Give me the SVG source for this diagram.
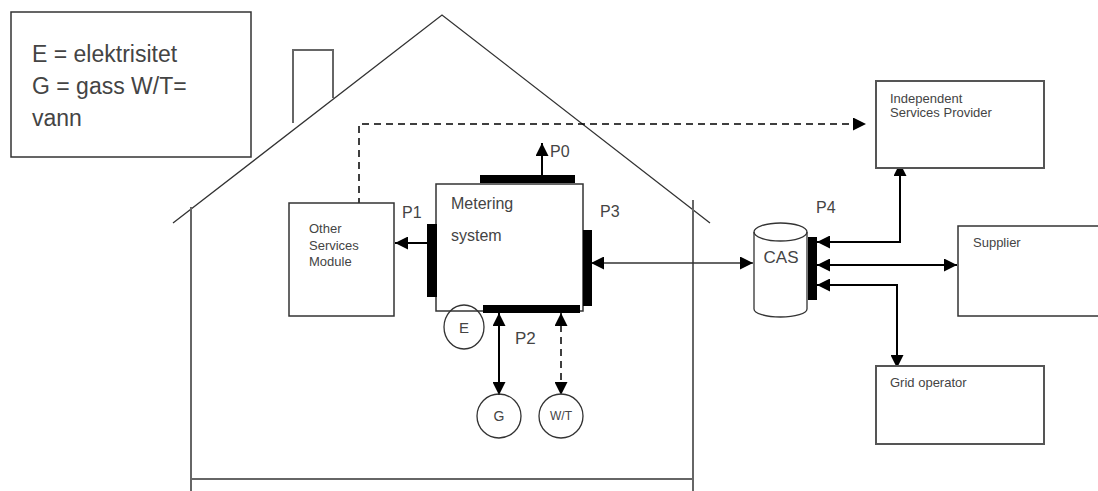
<svg xmlns="http://www.w3.org/2000/svg" width="1098" height="491" viewBox="0 0 1098 491">
<style>
.ln{stroke:#333;stroke-width:1.3;fill:none}
.gl{stroke:#666;stroke-width:2;fill:none}
.bx{stroke:#333;stroke-width:1.5;fill:#fff}
.gbx{stroke:#555;stroke-width:2;fill:#fff}
.bar{fill:#000}
.t{font-family:"Liberation Sans",Arial,sans-serif;fill:#444}
.c{stroke:#000;stroke-width:2;fill:none}
.d{stroke:#000;stroke-width:1.5;fill:none;stroke-dasharray:7,5}
</style>
<defs>
<marker id="ah" viewBox="0 0 10 10" refX="10" refY="5" markerWidth="13" markerHeight="13" markerUnits="userSpaceOnUse" orient="auto-start-reverse"><path d="M0,0 L10,5 L0,10 z" fill="#000"/></marker>
</defs>
<rect width="1098" height="491" fill="#fff"/>
<g id="legend">
<rect x="11" y="12" width="240" height="145" class="bx"/>
<text class="t" x="32" y="62" font-size="23" fill="#333">E = elektrisitet</text>
<text class="t" x="32" y="94" font-size="23" fill="#333">G = gass W/T=</text>
<text class="t" x="32" y="126" font-size="23" fill="#333">vann</text>
</g>
<g id="house">
<polyline points="293,123 293,50 333,50 333,98" class="gl"/>
<polyline points="173,223 442,15 710,223" class="ln"/>
<line x1="191" y1="207" x2="191" y2="491" class="gl"/>
<line x1="693" y1="200" x2="693" y2="491" class="gl"/>
<line x1="190" y1="479" x2="693" y2="479" class="gl" stroke-width="2.5"/>
</g>
<g id="connectors">
<polyline points="359,205 359,124 866,124" class="d" marker-end="url(#ah)"/>
<path d="M353,204 L365,204 L359,213 z" fill="#000"/>
<line x1="542" y1="176" x2="542" y2="143" class="c" marker-end="url(#ah)"/>
<line x1="428" y1="243" x2="395" y2="243" class="c" marker-end="url(#ah)"/>
<line x1="591" y1="263" x2="753" y2="263" class="ln" stroke="#000" marker-start="url(#ah)" marker-end="url(#ah)"/>
<line x1="499" y1="313" x2="499" y2="395" class="c" marker-start="url(#ah)" marker-end="url(#ah)"/>
<line x1="561" y1="313" x2="561" y2="395" class="d" stroke-width="2" stroke-dasharray="5,3" marker-start="url(#ah)" marker-end="url(#ah)"/>
<polyline points="817,242 900,242 900,163" class="c" marker-start="url(#ah)" marker-end="url(#ah)"/>
<line x1="817" y1="265" x2="957" y2="265" class="c" stroke-width="3" marker-start="url(#ah)" marker-end="url(#ah)"/>
<polyline points="817,285 897,285 897,368" class="c" marker-start="url(#ah)" marker-end="url(#ah)"/>
</g>
<g id="other-services">
<rect x="289" y="203" width="105" height="113" class="bx"/>
<text class="t" x="309" y="233" font-size="13">Other</text>
<text class="t" x="309" y="250" font-size="13">Services</text>
<text class="t" x="309" y="266" font-size="13">Module</text>
</g>
<g id="metering">
<rect x="436" y="184" width="147" height="127" class="bx"/>
<text class="t" x="451" y="209" font-size="16">Metering</text>
<text class="t" x="451" y="241" font-size="16">system</text>
<rect x="480" y="175" width="95" height="8" class="bar"/>
<rect x="427" y="224" width="10" height="73" class="bar"/>
<rect x="583" y="230" width="9" height="76" class="bar"/>
<rect x="483" y="305" width="97" height="8" class="bar"/>
<text class="t" x="550" y="157" font-size="16">P0</text>
<text class="t" x="402" y="218" font-size="16">P1</text>
<text class="t" x="600" y="217" font-size="16">P3</text>
<text class="t" x="515" y="344" font-size="17">P2</text>
</g>
<g id="E">
<ellipse cx="464" cy="327" rx="20" ry="22" class="ln" fill="#fff"/>
<text class="t" x="464" y="333" font-size="15" text-anchor="middle">E</text>
</g>
<g id="G">
<circle cx="499" cy="416" r="22" class="ln" fill="#fff"/>
<text class="t" x="499" y="421" font-size="14" text-anchor="middle">G</text>
</g>
<g id="WT">
<circle cx="561" cy="416" r="22" class="ln" fill="#fff"/>
<text class="t" x="561" y="420" font-size="12" text-anchor="middle">W/T</text>
</g>
<g id="CAS">
<path d="M754,232 L754,309 A26.5,8 0 0 0 807,309 L807,232" class="ln" fill="#fff"/>
<ellipse cx="780.5" cy="232" rx="26.5" ry="9" class="ln" fill="#fff"/>
<text class="t" x="781" y="263" font-size="17" text-anchor="middle">CAS</text>
<rect x="808" y="237" width="9" height="63" class="bar"/>
<text class="t" x="816" y="213" font-size="16">P4</text>
</g>
<g id="isp">
<rect x="876" y="81" width="168" height="87" class="gbx"/>
<text class="t" x="890" y="103" font-size="13">Independent</text>
<text class="t" x="890" y="117" font-size="13">Services Provider</text>
</g>
<g id="supplier">
<rect x="958" y="226" width="150" height="90" class="bx"/>
<text class="t" x="973" y="247" font-size="13">Supplier</text>
</g>
<g id="grid">
<rect x="876" y="366" width="168" height="78" class="gbx"/>
<text class="t" x="890" y="387" font-size="13">Grid operator</text>
</g>
</svg>
